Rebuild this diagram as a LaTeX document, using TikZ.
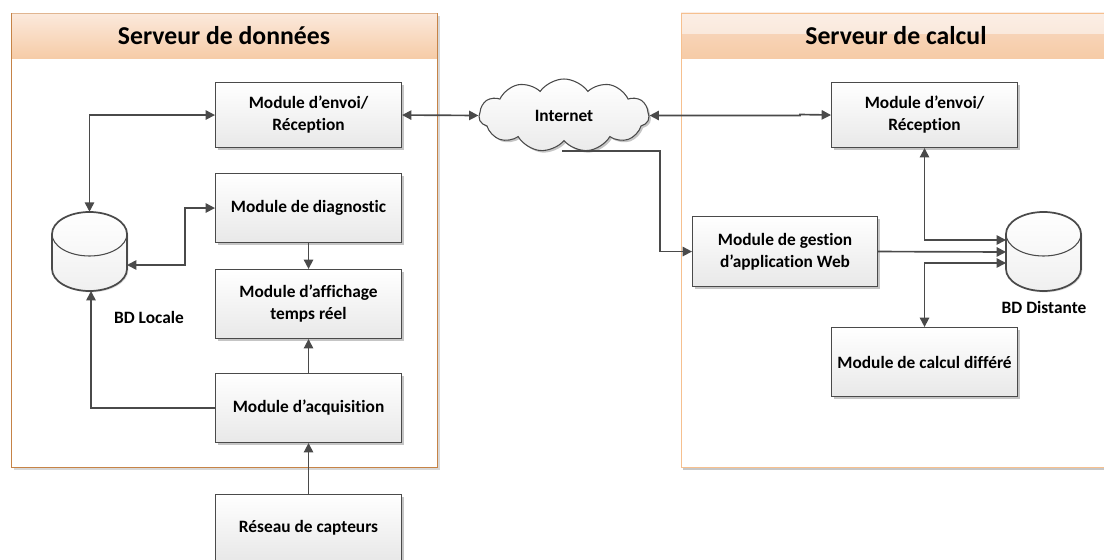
\documentclass[tikz,border=0pt]{standalone}
\usepackage{fontspec}
\setmainfont[Ligatures=NoCommon]{Carlito}
\usetikzlibrary{arrows.meta,shapes.geometric,shapes.symbols,shadows,calc}
\definecolor{linec}{HTML}{4A4A4A}
\definecolor{panelA}{HTML}{C68346}
\definecolor{panelB}{HTML}{F6C08F}
\definecolor{headTop}{HTML}{FBE9DC}
\definecolor{headBot}{HTML}{F6CBA6}
\definecolor{headPale}{HTML}{FBEEE5}
\definecolor{headMid}{HTML}{F7D3B6}
\tikzset{
 x=0.75pt,y=-0.75pt,
 shad/.style={drop shadow={shadow xshift=1.5pt,shadow yshift=-1.5pt,fill=black!45,opacity=.5}},
 modbox/.style={draw=linec,line width=0.8pt,top color=white,bottom color=black!9,shad,align=center,
   font=\fontsize{13pt}{16.5pt}\selectfont\bfseries,inner sep=0pt,anchor=north west},
 conn/.style={draw=linec,line width=1.25pt,-{Triangle[length=7pt,width=7pt]}},
 bidir/.style={draw=linec,line width=1.25pt,{Triangle[length=7pt,width=7pt]}-{Triangle[length=7pt,width=7pt]}},
 dbframe/.style={rectangle,minimum width=56.25pt,minimum height=59.25pt,inner sep=0pt},
 dbshape/.style={draw=linec,line width=1.3pt,top color=white,bottom color=black!6,
   drop shadow={shadow xshift=1pt,shadow yshift=-1pt,fill=black!30,opacity=.4}},
 dbrim/.style={draw=linec,line width=0.8pt},
 blabel/.style={font=\fontsize{13pt}{14pt}\selectfont\bfseries},
 title/.style={font=\fontsize{19.3pt}{20pt}\selectfont\bfseries},
 panelbody/.style={fill=white,drop shadow={shadow xshift=1.5pt,shadow yshift=-1.5pt,fill=black!30,opacity=.5}},
}
\newcommand{\modnode}[6]{\node[modbox,minimum width=#4*0.75pt,minimum height=#5*0.75pt] (#1) at (#2,#3) {#6};}
\newcommand{\dbdraw}[1]{\begin{scope}[shift={(#1.center)}]
 \path[dbshape] (-37.5,-17.5) .. controls (-37.5,-29.6) and (-20.7,-39.5) .. (0,-39.5) .. controls (20.7,-39.5) and (37.5,-29.6) .. (37.5,-17.5) -- (37.5,17.5) .. controls (37.5,29.6) and (20.7,39.5) .. (0,39.5) .. controls (-20.7,39.5) and (-37.5,29.6) .. (-37.5,17.5) -- cycle;
 \draw[dbrim] (-37.5,-17.5) .. controls (-37.5,-5.4) and (-20.7,4.5) .. (0,4.5) .. controls (20.7,4.5) and (37.5,-5.4) .. (37.5,-17.5);
\end{scope}}
\begin{document}
\begin{tikzpicture}
\useasboundingbox (0,0) rectangle (1104,560);
% left panel
\node[panelbody,minimum width=426*0.75pt,minimum height=454*0.75pt,inner sep=0pt,anchor=north west] (panelL) at (11.5,13.5) {};
\fill[top color=headTop,bottom color=headBot] (11.5,13.5) rectangle (437.5,59);
\draw[panelA,line width=0.6pt,opacity=.5] (11.5,13.5) -- (437.5,13.5);
\draw[panelA,line width=0.9pt] (11.5,13.5) -- (11.5,467.5) -- (437.5,467.5) -- (437.5,13.5);
\node[title] (titleL) at (224,36) {Serveur de données};
% right panel
\fill[white] (681,13) rectangle (1104,467);
\fill[black!22] (683,468) rectangle (1104,470);
\fill[top color=headPale,bottom color=headPale!80!headMid] (681,13) rectangle (1104,35);
\fill[top color=headMid,bottom color=headBot] (681,35) rectangle (1104,59);
\draw[panelB,line width=0.9pt] (1104,13.5) -- (681.5,13.5) -- (681.5,467.5) -- (1104,467.5);
\node[title] (titleR) at (896,36) {Serveur de calcul};
% modules
\modnode{envL}{215}{82}{186}{65}{Module d’envoi/\\Réception}
\modnode{diag}{215}{173}{186}{69}{Module de diagnostic}
\modnode{aff}{215}{269}{186}{69}{Module d’affichage\\temps réel}
\modnode{acq}{215}{373}{186}{69}{Module d’acquisition}
\modnode{res}{215}{494}{186}{66}{Réseau de capteurs}
\modnode{envR}{831}{82}{186}{65}{Module d’envoi/\\Réception}
\modnode{gest}{692}{216}{185}{70}{Module de gestion\\d’application Web}
\modnode{calc}{831}{327}{186}{69}{Module de calcul différé}
% databases
\node[dbframe] (dbL) at (89.5,251.5) {};
\node[dbframe] (dbR) at (1043.5,251.5) {};
\dbdraw{dbL}
\dbdraw{dbR}
\node[blabel] (lblL) at (149,317) {BD Locale};
\node[blabel] (lblR) at (1044,307) {BD Distante};
% cloud
\node[cloud,cloud puffs=11,cloud puff arc=110,aspect=2.4,draw=linec,line width=0.8pt,top color=white,bottom color=black!8,shad,
  minimum width=170*0.75pt,minimum height=73*0.75pt,inner sep=0pt,
  font=\fontsize{13pt}{14pt}\selectfont\bfseries] (net) at (564,115.5) {Internet};
% connectors left
\draw[bidir] (envL.west) -| (dbL.north);
\coordinate (dbLa) at (127,265);
\draw[bidir] (diag.west) -- ++(-30,0) |- (dbLa);
\draw[conn] (diag.south) -- (aff.north);
\draw[conn] (acq.north) -- (aff.south);
\coordinate (dbLb) at (91,291);
\draw[conn] (acq.west) -| (dbLb);
\draw[conn] (res.north) -- (acq.south);
% internet
\draw[bidir] (envL.east) -- (net.west);
\coordinate (jog) at (800,115.5);
\draw[bidir] (net.east) -- (jog) -- (800,114.5) -- (envR.west);
\coordinate (netb) at (562,151);
\draw[conn] (netb) -- (660,151) |- (gest.west);
% connectors right
\coordinate (dbRa) at (1006,240);
\coordinate (dbRb) at (1006,252);
\coordinate (dbRc) at (1006,263);
\draw[bidir] (envR.south) |- (dbRa);
\draw[conn] (gest.east) -- (dbRb);
\draw[bidir] (calc.north) |- (dbRc);
\end{tikzpicture}
\end{document}
